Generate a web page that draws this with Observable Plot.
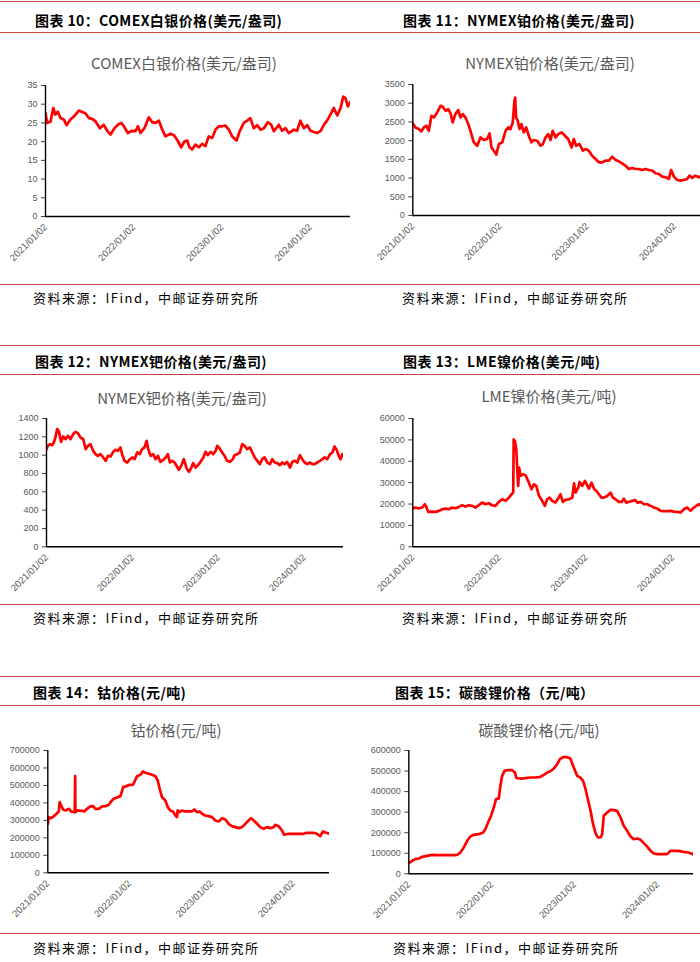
<!DOCTYPE html>
<html><head><meta charset="utf-8">
<script src="https://cdn.jsdelivr.net/npm/d3@7"></script>
<script src="https://cdn.jsdelivr.net/npm/@observablehq/plot@0.6"></script>
<style>
html,body{margin:0;padding:0;background:#fff;}
#page{position:relative;width:700px;height:962px;overflow:hidden;font-family:"Noto Sans CJK SC","Noto Sans",sans-serif;}
.rule{position:absolute;height:0;border-top:1.3px solid #c9403c;}
.hdr{position:absolute;font-weight:700;font-size:14px;letter-spacing:0.4px;color:#000;transform:translateY(-50%);white-space:nowrap;line-height:1;}
.ttl{position:absolute;font-size:15px;color:#595959;transform:translate(-50%,-50%);white-space:nowrap;line-height:1;}
.src{position:absolute;font-size:13px;color:#000;transform:translateY(-50%);white-space:nowrap;line-height:1;letter-spacing:1.5px;}
.chart{position:absolute;}
.chart svg{overflow:visible;}
</style></head><body><div id="page"></div>
<script>
// ---- data ----
const xTicks = ["2021-01-02","2022-01-02","2023-01-02","2024-01-02"];
const sourceText = "资料来源：IFind，中邮证券研究所";

const silver = [["2021-01-02",27.6],["2021-01-09",25],["2021-01-23",25.4],["2021-02-03",29],["2021-02-12",27.2],["2021-02-22",28],["2021-03-05",26.3],["2021-03-19",25.9],["2021-03-30",24.4],["2021-04-15",25.9],["2021-04-29",26.7],["2021-05-20",28.3],["2021-06-03",27.9],["2021-06-16",27.6],["2021-06-30",26.3],["2021-07-14",26.1],["2021-07-28",25.4],["2021-08-15",23.6],["2021-08-31",24.5],["2021-09-14",22.9],["2021-09-28",21.9],["2021-10-14",23.6],["2021-11-01",24.7],["2021-11-12",25],["2021-11-22",24.1],["2021-12-08",22.3],["2021-12-26",22.9],["2022-01-09",22.8],["2022-01-19",24.1],["2022-01-30",22.3],["2022-02-15",23.6],["2022-03-05",26.5],["2022-03-19",25.2],["2022-04-02",25],["2022-04-16",25.6],["2022-04-27",23.6],["2022-05-13",21.4],["2022-06-03",22.1],["2022-06-17",21.7],["2022-06-30",20.5],["2022-07-17",18.5],["2022-07-31",20.1],["2022-08-11",20.3],["2022-08-20",18.5],["2022-08-31",17.9],["2022-09-14",19.2],["2022-09-28",18.5],["2022-10-12",19.4],["2022-10-25",18.8],["2022-11-08",21.4],["2022-11-22",21],["2022-12-06",23.2],["2022-12-20",24.1],["2023-01-02",24.1],["2023-01-16",24.3],["2023-01-30",23.2],["2023-02-13",21.4],["2023-03-03",20.3],["2023-03-16",22.8],["2023-04-02",25],["2023-04-16",25.6],["2023-04-29",26.3],["2023-05-13",23.6],["2023-05-27",24.4],["2023-06-10",23.2],["2023-06-24",23.6],["2023-07-10",25.2],["2023-07-24",24.5],["2023-08-04",22.8],["2023-08-25",24.5],["2023-09-07",22.9],["2023-09-21",23.6],["2023-10-05",22.3],["2023-10-26",23.2],["2023-11-08",22.9],["2023-11-22",25.6],["2023-12-06",23.6],["2023-12-20",24.4],["2024-01-03",22.9],["2024-01-16",22.6],["2024-01-30",22.3],["2024-02-13",22.8],["2024-02-27",24.5],["2024-03-11",25.6],["2024-03-25",27.2],["2024-04-08",29],["2024-04-22",27],["2024-05-06",29],["2024-05-17",32],["2024-05-26",31.6],["2024-06-05",29.4],["2024-06-16",30.7]];

const platinum = [["2021-01-02",2460],["2021-01-13",2353],["2021-01-27",2309],["2021-02-07",2247],["2021-02-17",2353],["2021-02-27",2398],["2021-03-10",2264],["2021-03-21",2664],["2021-03-31",2620],["2021-04-14",2753],["2021-04-28",2930],["2021-05-07",2904],["2021-05-19",2797],["2021-05-30",2842],["2021-06-09",2726],["2021-06-18",2486],["2021-06-29",2708],["2021-07-11",2815],["2021-07-20",2620],["2021-07-30",2708],["2021-08-10",2620],["2021-08-21",2460],["2021-08-31",2264],["2021-09-14",1954],["2021-09-28",1865],["2021-10-12",2087],["2021-10-26",2016],["2021-11-09",2042],["2021-11-19",2193],["2021-11-27",1820],["2021-12-07",1732],["2021-12-17",1625],["2021-12-28",1909],["2022-01-11",1954],["2022-01-25",2264],["2022-02-05",2353],["2022-02-14",2309],["2022-02-24",2486],["2022-03-03",3064],["2022-03-06",3152],["2022-03-10",2620],["2022-03-17",2531],["2022-03-24",2309],["2022-04-01",2442],["2022-04-11",2220],["2022-04-21",2353],["2022-05-02",2131],["2022-05-13",1954],["2022-05-23",2016],["2022-06-06",1998],["2022-06-20",1865],["2022-06-30",1909],["2022-07-11",2087],["2022-07-22",2175],["2022-08-01",2016],["2022-08-10",2264],["2022-08-22",2087],["2022-09-02",2175],["2022-09-16",2220],["2022-09-30",2131],["2022-10-14",2042],["2022-10-28",1820],["2022-11-06",2042],["2022-11-16",1865],["2022-11-30",1909],["2022-12-14",1732],["2022-12-25",1776],["2023-01-08",1732],["2023-01-22",1598],["2023-02-05",1510],["2023-02-19",1421],["2023-03-05",1421],["2023-03-19",1465],["2023-04-02",1465],["2023-04-16",1572],["2023-04-30",1483],["2023-05-13",1447],["2023-05-27",1394],["2023-06-10",1332],["2023-06-24",1243],["2023-07-08",1270],["2023-07-22",1243],["2023-08-05",1243],["2023-08-19",1216],["2023-09-02",1243],["2023-09-16",1216],["2023-09-30",1199],["2023-10-14",1128],["2023-10-28",1110],["2023-11-11",1039],["2023-11-25",1021],["2023-12-09",977],["2023-12-18",1216],["2023-12-30",1039],["2024-01-12",950],["2024-01-26",932],["2024-02-09",950],["2024-02-23",977],["2024-03-04",1066],["2024-03-15",1003],["2024-03-29",1066],["2024-04-12",1021],["2024-04-19",1039]];

const palladium = [["2021-01-02",1065],["2021-01-08",1102],["2021-01-16",1120],["2021-01-26",1109],["2021-02-02",1138],["2021-02-09",1193],["2021-02-16",1284],["2021-02-23",1265],["2021-03-05",1145],["2021-03-14",1204],["2021-03-24",1175],["2021-04-03",1211],["2021-04-14",1175],["2021-04-25",1229],["2021-05-05",1254],["2021-05-15",1240],["2021-05-26",1193],["2021-06-07",1175],["2021-06-17",1065],["2021-06-27",1102],["2021-07-08",1120],["2021-07-19",1047],["2021-07-29",1011],["2021-08-08",993],["2021-08-19",1011],["2021-08-31",975],["2021-09-10",938],["2021-09-20",993],["2021-10-01",985],["2021-10-12",1036],["2021-10-22",1058],["2021-11-01",1047],["2021-11-12",1084],["2021-11-19",1011],["2021-11-29",938],["2021-12-11",920],["2021-12-22",956],["2022-01-03",975],["2022-01-11",956],["2022-01-22",1029],["2022-02-02",1011],["2022-02-12",1065],["2022-02-22",1084],["2022-03-03",1156],["2022-03-10",1065],["2022-03-20",993],["2022-03-31",1011],["2022-04-10",956],["2022-04-20",993],["2022-05-01",927],["2022-05-13",949],["2022-05-23",975],["2022-06-01",1011],["2022-06-10",920],["2022-06-20",938],["2022-06-30",920],["2022-07-08",884],["2022-07-18",840],["2022-07-28",884],["2022-08-08",956],["2022-08-20",855],["2022-08-30",818],["2022-09-09",865],["2022-09-17",913],["2022-09-27",865],["2022-10-07",891],["2022-10-18",927],["2022-10-30",975],["2022-11-08",1036],["2022-11-18",1000],["2022-11-30",1036],["2022-12-11",1011],["2022-12-21",1047],["2022-12-28",1102],["2023-01-07",1073],["2023-01-18",1029],["2023-01-28",993],["2023-02-08",938],["2023-02-20",927],["2023-03-02",949],["2023-03-12",1000],["2023-03-23",1011],["2023-04-03",1029],["2023-04-13",1120],["2023-04-23",1102],["2023-05-04",1065],["2023-05-16",1084],["2023-05-26",1029],["2023-06-05",975],["2023-06-16",938],["2023-06-27",902],["2023-07-07",956],["2023-07-17",975],["2023-07-28",920],["2023-08-09",902],["2023-08-19",956],["2023-08-29",920],["2023-09-09",913],["2023-09-20",891],["2023-09-30",920],["2023-10-10",902],["2023-10-21",927],["2023-11-02",865],["2023-11-12",927],["2023-11-22",938],["2023-12-03",920],["2023-12-14",1000],["2023-12-24",956],["2024-01-03",920],["2024-01-14",902],["2024-01-26",920],["2024-02-05",902],["2024-02-14",902],["2024-02-26",920],["2024-03-08",938],["2024-03-18",956],["2024-03-28",975],["2024-04-08",956],["2024-04-20",1011],["2024-04-30",1029],["2024-05-09",1095],["2024-05-18",1058],["2024-05-28",985],["2024-06-04",956],["2024-06-11",1011]];

const nickel = [["2021-01-02",17880],["2021-01-13",18350],["2021-01-27",17880],["2021-02-10",18350],["2021-02-22",19900],["2021-03-01",18350],["2021-03-08",16330],["2021-03-22",16480],["2021-04-08",16330],["2021-04-22",16800],["2021-05-06",17570],["2021-05-20",17880],["2021-06-03",17570],["2021-06-17",18350],["2021-07-01",18040],["2021-07-15",18660],["2021-07-29",19440],["2021-08-12",18820],["2021-08-26",19440],["2021-09-09",19130],["2021-09-23",18350],["2021-10-07",19440],["2021-10-21",20680],["2021-11-04",19900],["2021-11-18",20370],["2021-12-02",19440],["2021-12-16",19130],["2021-12-30",20990],["2022-01-14",22240],["2022-01-28",21460],["2022-02-11",23010],["2022-02-22",24570],["2022-03-01",25350],["2022-03-03",50200],["2022-03-08",49450],["2022-03-14",45560],["2022-03-18",36230],["2022-03-22",28460],["2022-03-26",37010],["2022-04-01",33120],["2022-04-11",33900],["2022-04-22",33430],["2022-05-06",30000],["2022-05-17",26900],["2022-05-27",29230],["2022-06-06",28460],["2022-06-17",24100],["2022-07-01",21460],["2022-07-12",19130],["2022-07-22",22240],["2022-08-01",23010],["2022-08-12",21460],["2022-08-26",20680],["2022-09-09",23010],["2022-09-16",24570],["2022-09-26",20990],["2022-10-07",21930],["2022-10-22",22240],["2022-11-05",23010],["2022-11-12",29700],["2022-11-19",25350],["2022-11-30",27680],["2022-12-06",30320],["2022-12-17",28460],["2022-12-28",30790],["2023-01-07",28770],["2023-01-14",27210],["2023-01-25",30010],["2023-02-04",27210],["2023-02-14",26120],["2023-02-25",24570],["2023-03-08",23010],["2023-03-18",23010],["2023-04-01",23790],["2023-04-15",25350],["2023-04-25",23010],["2023-05-06",22240],["2023-05-20",20990],["2023-06-01",20990],["2023-06-10",22550],["2023-06-20",20680],["2023-07-01",20990],["2023-07-15",21460],["2023-07-27",21930],["2023-08-06",20680],["2023-08-20",20990],["2023-09-03",19900],["2023-09-17",19900],["2023-10-01",19130],["2023-10-15",18350],["2023-10-29",17880],["2023-11-12",16800],["2023-11-26",16640],["2023-12-10",16640],["2023-12-24",16800],["2024-01-07",16480],["2024-01-21",16330],["2024-02-04",16020],["2024-02-18",17570],["2024-03-03",18350],["2024-03-17",16800],["2024-03-31",18350],["2024-04-10",19130],["2024-04-21",19900],["2024-04-28",19440]];

const cobalt = [["2021-01-02",280000],["2021-01-06",318600],["2021-01-17",312900],["2021-01-29",324400],["2021-02-10",337700],["2021-02-20",351000],["2021-02-24",404500],["2021-03-02",385400],["2021-03-11",362500],["2021-03-22",356800],["2021-04-06",366300],["2021-04-16",351000],["2021-04-28",347300],["2021-05-02",347300],["2021-05-04",553300],["2021-05-05",347300],["2021-05-16",356800],["2021-06-04",354900],["2021-06-14",351000],["2021-06-26",366300],["2021-07-11",379700],["2021-07-23",381600],["2021-08-02",366300],["2021-08-17",366300],["2021-09-01",379700],["2021-09-16",381600],["2021-10-01",389200],["2021-10-11",408300],["2021-10-23",423600],["2021-11-10",433100],["2021-11-22",438800],["2021-12-04",490400],["2021-12-18",496100],["2022-01-02",503700],["2022-01-17",503700],["2022-02-04",553300],["2022-02-19",561000],["2022-03-03",580000],["2022-03-13",572400],["2022-03-28",566700],["2022-04-12",561000],["2022-04-27",553300],["2022-05-07",528500],["2022-05-16",480800],["2022-05-26",433100],["2022-06-10",414000],["2022-06-21",375900],["2022-07-02",356800],["2022-07-14",351000],["2022-07-25",328200],["2022-08-01",318600],["2022-08-04",356800],["2022-08-13",347300],["2022-08-23",356800],["2022-09-07",351000],["2022-09-22",351000],["2022-10-07",351000],["2022-10-17",362500],["2022-10-29",347300],["2022-11-10",351000],["2022-11-21",337700],["2022-12-05",328200],["2022-12-20",324400],["2023-01-04",318600],["2023-01-19",299600],["2023-02-03",293800],["2023-02-18",312900],["2023-03-05",305300],["2023-03-19",280500],["2023-04-03",267100],["2023-04-18",261400],["2023-05-03",255700],["2023-05-18",261400],["2023-06-02",280500],["2023-06-16",299600],["2023-06-27",312900],["2023-07-09",299600],["2023-07-24",280500],["2023-08-07",261400],["2023-08-22",251900],["2023-09-06",261400],["2023-09-21",255700],["2023-10-06",261400],["2023-10-13",274800],["2023-10-28",267100],["2023-11-12",242300],["2023-11-22",217500],["2023-12-12",223200],["2024-01-03",223200],["2024-01-25",223200],["2024-02-16",223200],["2024-03-02",229000],["2024-03-17",229000],["2024-04-01",229000],["2024-04-16",223200],["2024-05-01",209900],["2024-05-13",236600],["2024-05-27",229000],["2024-06-11",223200]];

const lithium = [["2021-01-02",51900],["2021-01-17",63200],["2021-01-31",71300],["2021-02-15",74600],["2021-03-02",82700],["2021-03-24",87500],["2021-04-15",92400],["2021-05-07",90800],["2021-06-05",90800],["2021-07-04",90800],["2021-07-26",90800],["2021-08-06",94000],["2021-08-17",103700],["2021-09-01",128100],["2021-09-16",160500],["2021-09-30",181600],["2021-10-15",189700],["2021-11-06",192900],["2021-11-25",201000],["2021-12-05",217200],["2021-12-20",257700],["2021-12-30",282100],["2022-01-11",322600],["2022-01-21",363100],["2022-02-02",366400],["2022-02-09",428000],["2022-02-17",476600],["2022-02-27",500900],["2022-03-11",504100],["2022-04-02",504100],["2022-04-14",492800],["2022-04-21",465200],["2022-05-08",463600],["2022-05-30",465200],["2022-06-21",468500],["2022-07-13",468500],["2022-08-04",471700],["2022-08-19",481400],["2022-09-03",492800],["2022-09-17",499300],["2022-10-02",512200],["2022-10-17",533300],["2022-10-29",557600],["2022-11-12",567400],["2022-11-30",567400],["2022-12-14",560900],["2022-12-26",525200],["2023-01-06",496000],["2023-01-13",476600],["2023-01-27",468500],["2023-02-08",452300],["2023-02-19",411700],["2023-03-01",363100],["2023-03-13",306400],["2023-03-24",241500],["2023-04-04",197800],["2023-04-14",176700],["2023-04-26",176700],["2023-05-03",192900],["2023-05-10",282100],["2023-05-25",298300],["2023-06-09",311200],["2023-06-23",309600],["2023-07-08",306400],["2023-07-23",273900],["2023-08-06",233400],["2023-08-21",209100],["2023-09-05",181600],["2023-09-19",168600],["2023-10-04",171800],["2023-10-19",165300],["2023-11-02",149100],["2023-11-17",132900],["2023-12-02",111800],["2023-12-16",98900],["2023-12-31",95600],["2024-01-22",95600],["2024-02-13",95600],["2024-02-28",111800],["2024-03-12",111800],["2024-04-03",111800],["2024-04-25",107000],["2024-05-17",103700],["2024-06-08",94000]];

// ---- layout / chart options (built from the arrays above) ----
const panels = [
  {hdr:"图表 10：COMEX白银价格(美元/盎司)", ttl:"COMEX白银价格(美元/盎司)", data:silver, ymax:35, step:5, end:"2024-06-16",
   col:0, hx:35, hy:20, tx:184, ty:61.7, sx:33, sy:296.7, top:1.3, mid:32.3, bot:284.3, yt:84.7, yb:215.7, ml:45, mr:0},
  {hdr:"图表 11：NYMEX铂价格(美元/盎司)", ttl:"NYMEX铂价格(美元/盎司)", data:platinum, ymax:3500, step:500, end:"2024-04-19",
   col:350, hx:403, hy:20, tx:550, ty:61.7, sx:402, sy:296.7, top:1.3, mid:32.3, bot:284.3, yt:84, yb:215, ml:62.3, mr:0},
  {hdr:"图表 12：NYMEX钯价格(美元/盎司)", ttl:"NYMEX钯价格(美元/盎司)", data:palladium, ymax:1400, step:200, end:"2024-06-16",
   col:0, hx:35, hy:360.7, tx:182, ty:396.7, sx:33, sy:617.3, top:345, mid:374.3, bot:604.3, yt:418, yb:546.3, ml:46, mr:7},
  {hdr:"图表 13：LME镍价格(美元/吨)", ttl:"LME镍价格(美元/吨)", data:nickel, ymax:60000, step:10000, end:"2024-04-28",
   col:350, hx:403, hy:360.7, tx:549, ty:395, sx:402, sy:617.3, top:345, mid:374.3, bot:604.3, yt:418, yb:546.3, ml:62.3, mr:0},
  {hdr:"图表 14：钴价格(元/吨)", ttl:"钴价格(元/吨)", data:cobalt, ymax:700000, step:100000, end:"2024-06-11",
   col:0, hx:33, hy:691.7, tx:176, ty:729.3, sx:33, sy:947.3, top:675.7, mid:705, bot:932.7, yt:750, yb:872.3, ml:47.3, mr:21},
  {hdr:"图表 15：碳酸锂价格（元/吨）", ttl:"碳酸锂价格(元/吨)", data:lithium, ymax:600000, step:100000, end:"2024-06-08",
   col:350, hx:395, hy:691.7, tx:539, ty:729.3, sx:393, sy:947.3, top:675.7, mid:705, bot:932.7, yt:749.7, yb:873, ml:58.3, mr:7}
];

const page = document.getElementById("page");
function add(cls, css, text) {
  const el = document.createElement("div");
  el.className = cls;
  Object.assign(el.style, css);
  if (text != null) el.textContent = text;
  page.appendChild(el);
  return el;
}

for (const p of panels) {
  add("rule", {left: p.col + "px", width: "350px", top: p.top + "px"});
  add("rule", {left: p.col + "px", width: "350px", top: p.mid + "px"});
  add("rule", {left: p.col + "px", width: "350px", top: p.bot + "px"});
  add("hdr", {left: p.hx + "px", top: p.hy + "px"}, p.hdr);
  add("ttl", {left: p.tx + "px", top: p.ty + "px"}, p.ttl);
  add("src", {left: p.sx + "px", top: p.sy + "px"}, sourceText);

  const rows = p.data.map(([d, v]) => ({date: new Date(d), value: v}));
  const x0 = new Date("2021-01-02"), x1 = new Date(p.end);
  const mt = 10, mb = 62;
  const h = (p.yb - p.yt) + mt + mb;
  const chart = Plot.plot({
    width: 350, height: h,
    marginLeft: p.ml, marginRight: p.mr, marginTop: mt, marginBottom: mb,
    x: {type: "utc", domain: [x0, x1]},
    y: {domain: [0, p.ymax]},
    style: {fontFamily: "'Liberation Sans', Arial, sans-serif", fontSize: "9px", color: "#595959", background: "transparent"},
    marks: [
      Plot.axisY({ticks: d3.range(0, p.ymax + 1, p.step), tickFormat: d3.format("d"), tickSize: 4, tickPadding: 4, label: null, stroke: "#404040"}),
      Plot.axisX({ticks: xTicks.map(t => new Date(t)), tickFormat: d3.utcFormat("%Y/%m/%d"), tickRotate: -45, tickSize: 0, tickPadding: 9, fontSize: 9.6, label: null}),
      Plot.line(rows, {x: "date", y: "value", stroke: "#ff0000", strokeWidth: 2.7, strokeLinejoin: "round", clip: true}),
      Plot.ruleX([x0], {stroke: "#000", strokeWidth: 1.4}),
      Plot.ruleY([0], {stroke: "#000", strokeWidth: 1.4})
    ]
  });
  const wrap = add("chart", {left: p.col + "px", top: (p.yt - mt) + "px"});
  wrap.appendChild(chart);
}
</script>
</body></html>
